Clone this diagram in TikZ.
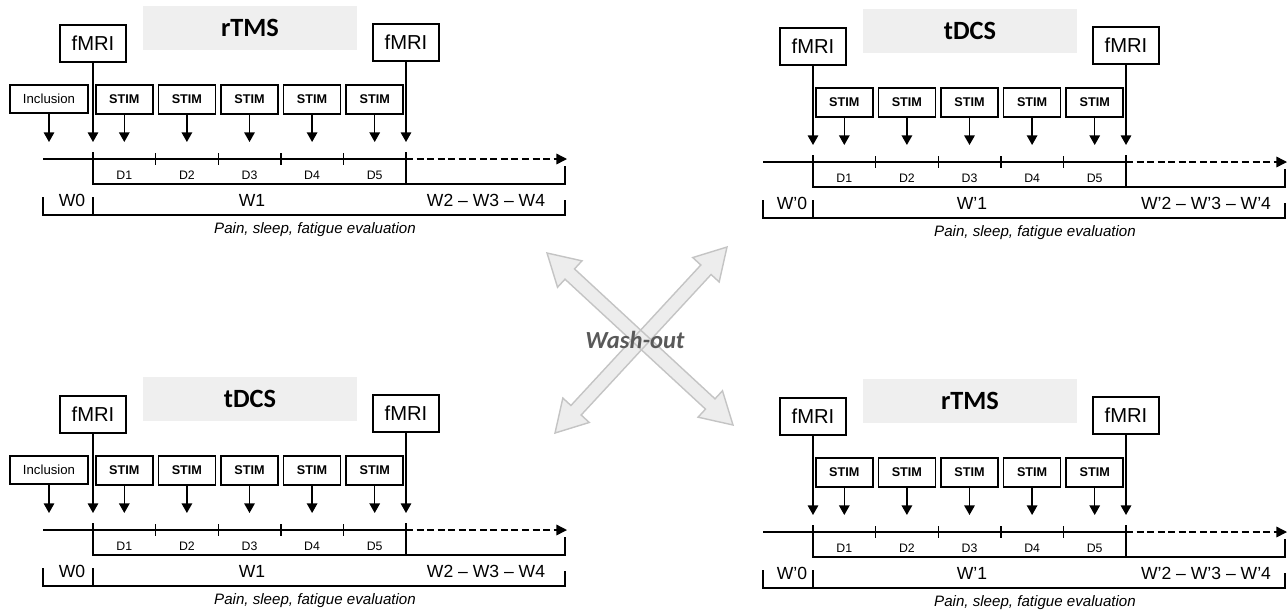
\documentclass[tikz,border=0pt]{standalone}
\usepackage{fontspec}
\setmainfont{Liberation Sans}
\newfontfamily\titlefont{Carlito}
\usetikzlibrary{arrows.meta,calc}
\definecolor{titlegray}{HTML}{EFEFEF}
\definecolor{washfill}{HTML}{EDEDED}
\definecolor{washline}{HTML}{C4C4C4}
\definecolor{washtext}{HTML}{595959}
\tikzset{box/.style={draw, line width=0.9pt, inner sep=0pt},
  fmribox/.style={box, minimum width=1.32cm, minimum height=0.74cm, font=\fontsize{11.5}{13}\selectfont},
  stimbox/.style={box, minimum width=1.14cm, minimum height=0.58cm, font=\fontsize{7.2}{8.6}\selectfont\bfseries},
  inclbox/.style={box, minimum width=1.56cm, minimum height=0.56cm, font=\fontsize{7.5}{9}\selectfont},
  titlebox/.style={fill=titlegray, minimum width=4.28cm, minimum height=0.88cm, inner sep=0pt, font=\titlefont\bfseries\fontsize{15}{18}\selectfont},
  tline/.style={line width=0.8pt},
  pointer/.style={tline, -{Triangle[width=6pt,length=5.5pt]}},
  future/.style={tline, dash pattern=on 4pt off 2pt, -{Triangle[width=6pt,length=6pt]}},
  daylabel/.style={font=\fontsize{7}{8.4}\selectfont},
  weeklabel/.style={font=\fontsize{10}{12}\selectfont},
  evallabel/.style={font=\itshape\fontsize{8.6}{10.3}\selectfont},
  washshape/.style={fill=washfill, draw=washline, line width=0.8pt}}

% one session: prefix, title, prime
\newcommand\trialpanel[3]{
  \node[titlebox] (#1-title) at (250,28) {#2};
  \node[fmribox] (#1-mri0) at (93,43.5) {fMRI};
  \node[fmribox] (#1-mri1) at (406,42.5) {fMRI};
  \coordinate (#1-tip) at (0,142);
  \coordinate (#1-start) at (43,159);
  \coordinate (#1-d5) at (406,159);
  \coordinate (#1-end) at (567,159);
  \draw[tline] (#1-start) -- (#1-d5);
  \draw[future] (#1-d5) -- (#1-end);
  \draw[pointer] (#1-mri0.south) -- (#1-mri0.south |- #1-tip);
  \draw[pointer] (#1-mri1.south) -- (#1-mri1.south |- #1-tip);
  \foreach \i in {1,...,5} {
    \node[stimbox] (#1-stim\i) at ({93+62.6*(\i-0.5)},99.5) {STIM};
    \draw[pointer] (#1-stim\i.south) -- (#1-stim\i.south |- #1-tip);
    \node[daylabel] (#1-day\i) at ({93+62.6*(\i-0.5)},175) {D\i};
  }
  \foreach \i in {1,...,4}
    \draw[tline] ({93+62.6*\i},153) -- ({93+62.6*\i},165);
  \draw[tline] (93,152) -- (93,184) -- (565,184) -- (565,166);
  \draw[tline] (406,152) -- (406,184);
  \draw[tline] (43,197) -- (43,215) -- (565,215) -- (565,200);
  \draw[tline] (93,197) -- (93,215);
  \node[weeklabel] (#1-w0) at (72,200) {W#30};
  \node[weeklabel] (#1-w1) at (252,200) {W#31};
  \node[weeklabel] (#1-w2) at (486,200) {W#32 -- W#33 -- W#34};
  \node[evallabel] (#1-eval) at (315,230) {Pain, sleep, fatigue evaluation};
}

\newcommand\headlen{0.62cm}
\newcommand\headhalf{0.36cm}
\newcommand\shafthalf{0.14cm}
\newcommand\blockarrow[3]{
  \path[#3] (#1) -- ($(#1)!\headlen!(#2)!\headhalf!90:(#2)$)
    -- ($(#1)!\headlen!(#2)!\shafthalf!90:(#2)$)
    -- ($(#2)!\headlen!(#1)!\shafthalf!-90:(#1)$)
    -- ($(#2)!\headlen!(#1)!\headhalf!-90:(#1)$) -- (#2)
    -- ($(#2)!\headlen!(#1)!\headhalf!90:(#1)$)
    -- ($(#2)!\headlen!(#1)!\shafthalf!90:(#1)$)
    -- ($(#1)!\headlen!(#2)!\shafthalf!-90:(#2)$)
    -- ($(#1)!\headlen!(#2)!\headhalf!-90:(#2)$) -- cycle;
}

\begin{document}
\begin{tikzpicture}[x=0.02cm, y=-0.02cm]
  \useasboundingbox (0,0) rectangle (1287,613);
  \begin{scope}
    \trialpanel{tl}{rTMS}{}
    \node[inclbox] (tl-incl) at (49,99) {Inclusion};
    \draw[pointer] (tl-incl.south) -- (tl-incl.south |- tl-tip);
  \end{scope}
  \begin{scope}[shift={(720,3)}]
    \trialpanel{tr}{tDCS}{'}
  \end{scope}
  \begin{scope}[shift={(0,371)}]
    \trialpanel{bl}{tDCS}{}
    \node[inclbox] (bl-incl) at (49,99) {Inclusion};
    \draw[pointer] (bl-incl.south) -- (bl-incl.south |- bl-tip);
  \end{scope}
  \begin{scope}[shift={(720,373)}]
    \trialpanel{br}{rTMS}{'}
  \end{scope}
  % wash-out cross
  \coordinate (wa1) at (547,253);
  \coordinate (wb1) at (733,425);
  \coordinate (wa2) at (727,247);
  \coordinate (wb2) at (555,433);
  \blockarrow{wa1}{wb1}{fill=washfill}
  \blockarrow{wa2}{wb2}{fill=washfill}
  \blockarrow{wa1}{wb1}{draw=washline, line width=0.8pt}
  \blockarrow{wa2}{wb2}{draw=washline, line width=0.8pt}
  \node[font=\titlefont\bfseries\itshape\fontsize{14}{17}\selectfont, text=washtext] (wash) at (635,340) {Wash-out};
\end{tikzpicture}
\end{document}
